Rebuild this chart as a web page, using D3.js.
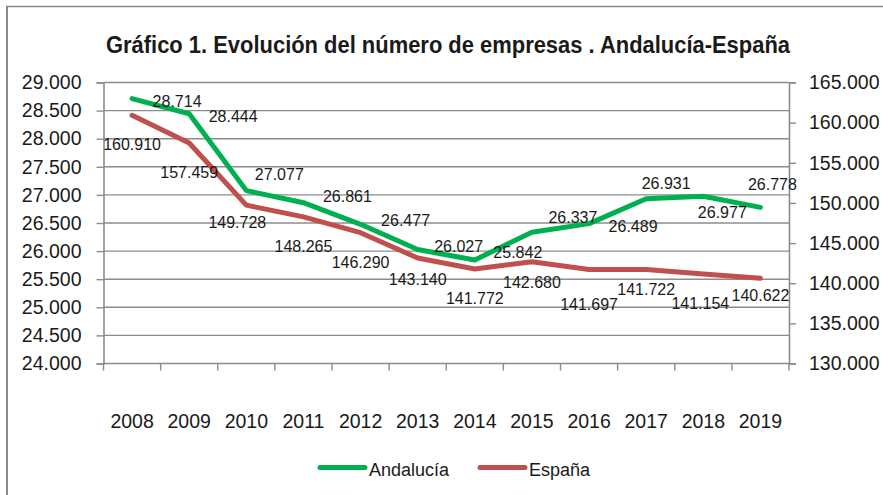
<!DOCTYPE html>
<html>
<head>
<meta charset="utf-8">
<script src="https://cdn.jsdelivr.net/npm/d3@7/dist/d3.min.js"></script>
<style>
  html, body { margin: 0; padding: 0; background: #fff; }
  svg { display: block; }
  text { font-family: "Liberation Sans", Arial, sans-serif; fill: #1a1a1a; }
</style>
</head>
<body>
<svg id="chart" width="883" height="495"></svg>
<script>
// ---- data ----
const years = ["2008","2009","2010","2011","2012","2013","2014","2015","2016","2017","2018","2019"];
const andalucia = [28714, 28444, 27077, 26861, 26477, 26027, 25842, 26337, 26489, 26931, 26977, 26778];
const espana = [160910, 157459, 149728, 148265, 146290, 143140, 141772, 142680, 141697, 141722, 141154, 140622];
const leftTicks = [24000, 24500, 25000, 25500, 26000, 26500, 27000, 27500, 28000, 28500, 29000];
const rightTicks = [130000, 135000, 140000, 145000, 150000, 155000, 160000, 165000];
const seriesNames = ["Andalucía", "España"];
const titleText = "Gráfico 1. Evolución del número de empresas . Andalucía-España";

// label nudges (layout only)
const andLabelDx = [45,44,33,44,45,41,43,41,44,20,19,12];
const andLabelDy = [2,2,-17,-7,-4,-4,-8,-15,2,-16,16,-23];
const espLabelDx = [0,0,-9,0,0,0,0,0,0,0,-3,0];
const espLabelDy = [29,29,17,29,29,21,29,20,34,20,29,17];

const green = "#00B050", red = "#C0504D", grid = "#8c8c8c";
const fmt = v => d3.format(",")(v).replace(/,/g, ".");

const svg = d3.select("#chart");
const L = 103.5, R = 789, T = 82.5, B = 363.5;

// border
svg.append("line").attr("x1", 6).attr("x2", 883).attr("y1", 6.5).attr("y2", 6.5)
  .attr("stroke", "#8a8a8a").attr("stroke-width", 1.5);
svg.append("line").attr("x1", 7).attr("x2", 7).attr("y1", 6).attr("y2", 495)
  .attr("stroke", "#8a8a8a").attr("stroke-width", 2);

// title
svg.append("text").attr("x", 106).attr("y", 53).attr("text-anchor", "start")
  .attr("textLength", 684).attr("lengthAdjust", "spacingAndGlyphs")
  .style("font-family", "'Liberation Sans', Arial, sans-serif")
  .style("font-weight", "bold").style("font-size", "23px")
  .text(titleText);

const x = d3.scaleBand().domain(years).range([L, R]);
const yL = d3.scaleLinear().domain([24000, 29000]).range([B, T]);
const yR = d3.scaleLinear().domain([130000, 165000]).range([B, T]);

// gridlines
svg.append("g").selectAll("line").data(leftTicks).join("line")
  .attr("x1", L).attr("x2", R).attr("y1", d => yL(d)).attr("y2", d => yL(d))
  .attr("stroke", grid).attr("stroke-width", 1.4);

// left axis
const gl = svg.append("g").attr("transform", `translate(${L},0)`)
  .call(d3.axisLeft(yL).tickValues(leftTicks).tickFormat(fmt).tickSize(7).tickPadding(15));
// right axis
const gr = svg.append("g").attr("transform", `translate(${R},0)`)
  .call(d3.axisRight(yR).tickValues(rightTicks).tickFormat(fmt).tickSize(7).tickPadding(13));
// bottom axis
const gb = svg.append("g").attr("transform", `translate(0,${B})`)
  .call(d3.axisBottom(x).tickSize(0).tickPadding(51));
// category boundary ticks
svg.append("g").selectAll("line").data(years.concat(["end"])).join("line")
  .attr("x1", (d, i) => L + i * x.step()).attr("x2", (d, i) => L + i * x.step())
  .attr("y1", B).attr("y2", B + 7).attr("stroke", grid).attr("stroke-width", 1.4);

[gl, gr, gb].forEach(g => {
  g.select(".domain").attr("stroke", grid).attr("stroke-width", 1.6);
  g.selectAll(".tick line").attr("stroke", grid).attr("stroke-width", 1.4);
  g.selectAll(".tick text").style("font-size", "19.5px").attr("fill", "#1a1a1a")
    .style("font-family", "'Liberation Sans', Arial, sans-serif");
});
gb.select(".domain").remove();

const cx = d => x(d) + x.bandwidth() / 2;

// lines
const lineL = d3.line().x((d, i) => cx(years[i])).y(d => yL(d));
const lineR = d3.line().x((d, i) => cx(years[i])).y(d => yR(d));
svg.append("path").datum(espana).attr("d", lineR).attr("fill", "none")
  .attr("stroke", red).attr("stroke-width", 5).attr("stroke-linejoin", "round").attr("stroke-linecap", "round");
svg.append("path").datum(andalucia).attr("d", lineL).attr("fill", "none")
  .attr("stroke", green).attr("stroke-width", 5).attr("stroke-linejoin", "round").attr("stroke-linecap", "round");

// data labels
svg.append("g").selectAll("text").data(andalucia).join("text")
  .attr("x", (d, i) => cx(years[i]) + andLabelDx[i])
  .attr("y", (d, i) => yL(d) + andLabelDy[i] + 6)
  .attr("text-anchor", "middle").style("font-size", "16px").text(d => fmt(d));
svg.append("g").selectAll("text").data(espana).join("text")
  .attr("x", (d, i) => cx(years[i]) + espLabelDx[i])
  .attr("y", (d, i) => yR(d) + espLabelDy[i] + 6)
  .attr("text-anchor", "middle").style("font-size", "16px").text(d => fmt(d));

// legend
const legend = [{name: seriesNames[0], color: green, x: 318}, {name: seriesNames[1], color: red, x: 478}];
const lg = svg.append("g").selectAll("g").data(legend).join("g");
lg.append("line").attr("x1", d => d.x + 2).attr("x2", d => d.x + 47).attr("y1", 467.5).attr("y2", 467.5)
  .attr("stroke", d => d.color).attr("stroke-width", 5).attr("stroke-linecap", "round");
lg.append("text").attr("x", d => d.x + 51).attr("y", 476).style("font-size", "18px").text(d => d.name);
</script>
</body>
</html>
